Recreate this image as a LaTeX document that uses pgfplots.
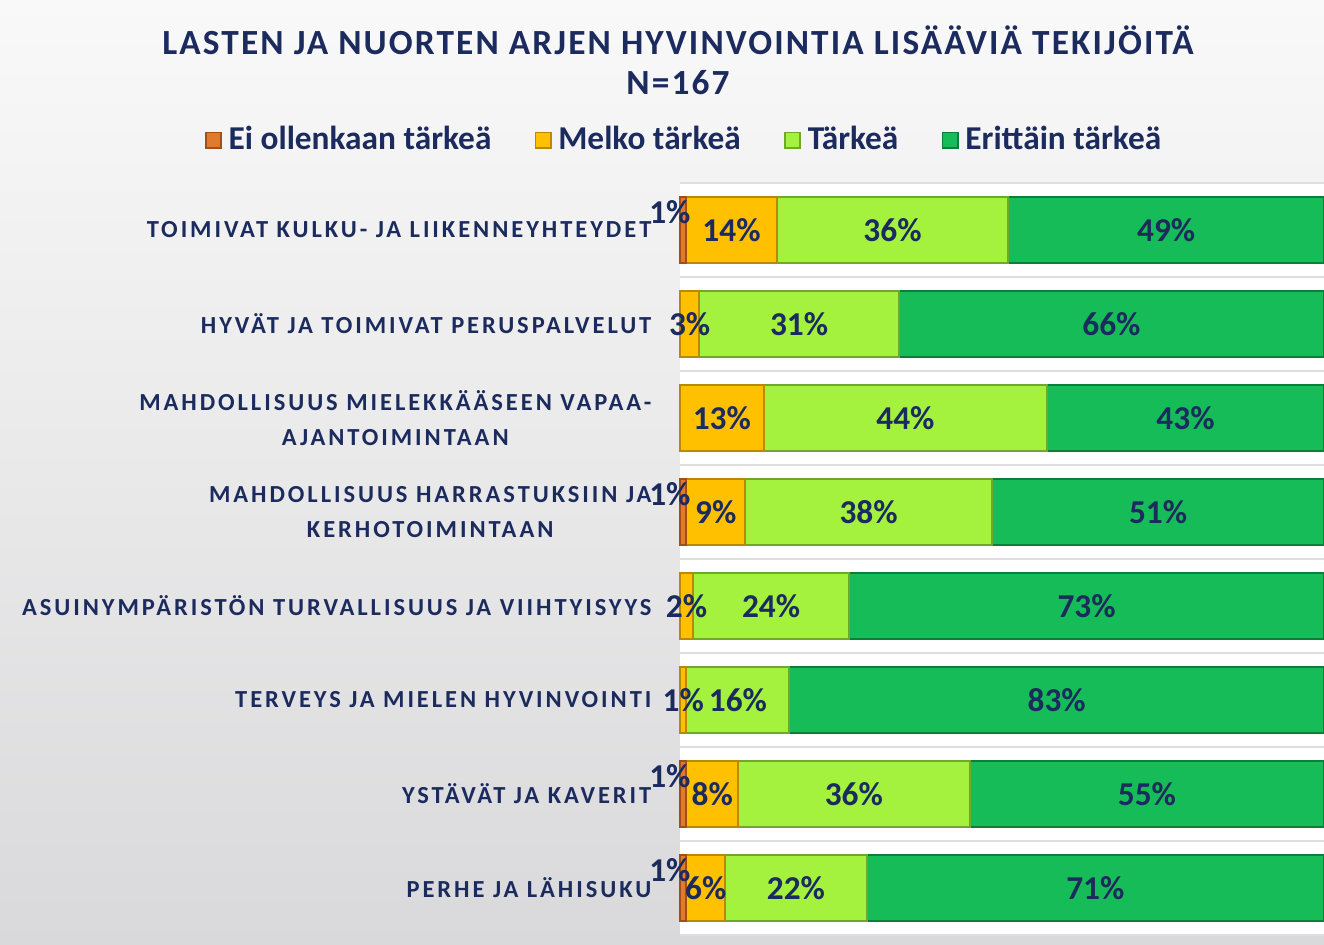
\documentclass[border=0pt]{standalone}
\usepackage{pgfplots}
\pgfplotsset{compat=1.18}
\usepackage{pgfplotstable}
\usepackage{fontspec}
\setmainfont{Carlito}
\newfontfamily\catfont[LetterSpace=12]{Carlito}
\newfontfamily\titlefont[LetterSpace=6]{Carlito}

\definecolor{navy}{HTML}{1C2B5E}
\definecolor{c_ei}{HTML}{E07A2E}
\definecolor{c_ei_d}{HTML}{A24E14}
\definecolor{c_melko}{HTML}{FFC000}
\definecolor{c_melko_d}{HTML}{B98A00}
\definecolor{c_tark}{HTML}{A4F23E}
\definecolor{c_tark_d}{HTML}{6FA82A}
\definecolor{c_erit}{HTML}{16BC58}
\definecolor{c_erit_d}{HTML}{0B7F38}
\definecolor{gridgray}{HTML}{DEDEDE}

% y=7 is the top row
\pgfplotstableread{
y a  b  c  d
7 1 14 36 49
6 0  3 31 66
5 0 13 44 43
4 1  9 38 51
3 0  2 24 73
2 0  1 16 83
1 1  8 36 55
0 1  6 22 71
}\arki

% 100% stacked, like the original chart: each row is scaled to its total
\newcommand\tot{(\thisrow{a}+\thisrow{b}+\thisrow{c}+\thisrow{d})}

\pgfplotsset{
  base/.style={
    at={(204pt,3pt)}, anchor=south west,
    width=193.2pt, height=225.6pt, scale only axis,
    xbar stacked, bar width=19.8pt,
    xmin=0, xmax=100, ymin=-0.5, ymax=7.5,
    enlargelimits=false, clip=false,
  },
  seg/.style={
    visualization depends on={\thisrow{#1} \as \segv},
    nodes near coords={\ifdim\segv pt>0pt\pgfmathprintnumber{\segv}\%\fi},
    every node near coord/.append style={anchor=center},
  },
}

\begin{document}
\begin{tikzpicture}[x=1pt,y=1pt]
\shade[top color={rgb,255:red,249;green,249;blue,249}, bottom color={rgb,255:red,217;green,217;blue,219}]
  (0,0) rectangle (397.2,283.5);

\node[text=navy, font=\titlefont\bfseries\fontsize{10.6}{12}\selectfont] at (203.4,271.5)
  {LASTEN JA NUORTEN ARJEN HYVINVOINTIA LISÄÄVIÄ TEKIJÖITÄ};
\node[text=navy, font=\titlefont\bfseries\fontsize{10.6}{12}\selectfont] at (203.4,258.6) {N=167};

\begin{axis}[
  base,
  axis background/.style={fill=white},
  axis line style={draw=none},
  xtick=\empty,
  ytick={0,...,7},
  yticklabels={
    {PERHE JA LÄHISUKU},
    {YSTÄVÄT JA KAVERIT},
    {TERVEYS JA MIELEN HYVINVOINTI},
    {ASUINYMPÄRISTÖN TURVALLISUUS JA VIIHTYISYYS},
    {MAHDOLLISUUS HARRASTUKSIIN JA\\KERHOTOIMINTAAN},
    {MAHDOLLISUUS MIELEKKÄÄSEEN VAPAA-\\AJANTOIMINTAAN},
    {HYVÄT JA TOIMIVAT PERUSPALVELUT},
    {TOIMIVAT KULKU- JA LIIKENNEYHTEYDET}},
  yticklabel style={font=\catfont\bfseries\fontsize{7.35}{10.5}\selectfont, text=navy,
    align=center, anchor=east, inner sep=0pt, xshift=-8.4pt},
  major tick length=0pt, minor tick length=0pt,
  minor ytick={-0.5,0.5,...,7.5},
  yminorgrids=true,
  minor grid style={draw=gridgray, line width=0.8pt},
  legend columns=4,
  legend style={at={(0.01,1.057)}, anchor=center, draw=none, fill=none,
    font=\bfseries\fontsize{10}{12}\selectfont, text=navy,
    /tikz/every even column/.append style={column sep=11pt}},
  legend image code/.code={\draw[#1, line width=0.5pt] (0pt,-2.3pt) rectangle (4.6pt,2.3pt);},
]
\addplot[fill=c_ei, draw=c_ei_d, line width=0.6pt] table[x expr={\thisrow{a}*100/\tot}, y=y] {\arki};
\addplot[fill=c_melko, draw=c_melko_d, line width=0.6pt] table[x expr={\thisrow{b}*100/\tot}, y=y] {\arki};
\addplot[fill=c_tark, draw=c_tark_d, line width=0.6pt] table[x expr={\thisrow{c}*100/\tot}, y=y] {\arki};
\addplot[fill=c_erit, draw=c_erit_d, line width=0.6pt] table[x expr={\thisrow{d}*100/\tot}, y=y] {\arki};
\legend{Ei ollenkaan tärkeä, Melko tärkeä, Tärkeä, Erittäin tärkeä}
\end{axis}

% labels on top of all bars
\begin{axis}[
  base, hide axis,
  /pgf/number format/assume math mode=true,
  every node near coord/.append style={font=\bfseries\fontsize{10}{12}\selectfont, text=navy},
]
\addplot[draw=none, fill=none, seg=a,
  every node near coord/.append style={xshift=-4pt, yshift=5.5pt}] table[x expr={\thisrow{a}*100/\tot}, y=y] {\arki};
\addplot[draw=none, fill=none, seg=b] table[x expr={\thisrow{b}*100/\tot}, y=y] {\arki};
\addplot[draw=none, fill=none, seg=c] table[x expr={\thisrow{c}*100/\tot}, y=y] {\arki};
\addplot[draw=none, fill=none, seg=d] table[x expr={\thisrow{d}*100/\tot}, y=y] {\arki};
\end{axis}

\pgfresetboundingbox
\useasboundingbox (0,0) rectangle (397.2,283.5);
\end{tikzpicture}
\end{document}
